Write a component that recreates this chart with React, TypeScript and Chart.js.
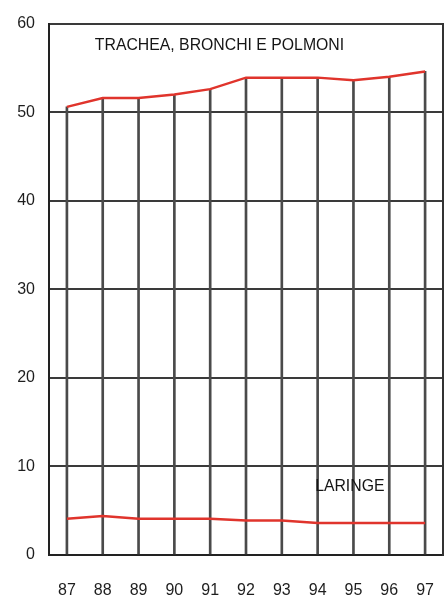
import React, { useEffect, useRef } from "react";
import { Chart, registerables } from "chart.js";

Chart.register(...registerables);

const YEARS = [87, 88, 89, 90, 91, 92, 93, 94, 95, 96, 97];
const TRACHEA = [50.6, 51.6, 51.6, 52.0, 52.6, 53.9, 53.9, 53.9, 53.6, 54.0, 54.6];
const LARINGE = [4.1, 4.4, 4.1, 4.1, 4.1, 3.9, 3.9, 3.6, 3.6, 3.6, 3.6];
const Y_TICKS = [0, 10, 20, 30, 40, 50, 60];
const SERIES_NAMES = ["TRACHEA, BRONCHI E POLMONI", "LARINGE"];
const NAME_ANCHORS = [
  { x: 87.78, y: 57.5 },
  { x: 93.93, y: 7.7 },
];

const FONT = "'Liberation Sans', Arial, sans-serif";

const labelPlugin = {
  id: "seriesLabels",
  afterDatasetsDraw(chart: any) {
    const { ctx, scales } = chart;
    ctx.save();
    ctx.font = `15.8px ${FONT}`;
    ctx.fillStyle = "#151515";
    ctx.textAlign = "left";
    ctx.textBaseline = "middle";
    SERIES_NAMES.forEach((name, i) => {
      const a = NAME_ANCHORS[i];
      ctx.fillText(name, scales.x.getPixelForValue(a.x), scales.y.getPixelForValue(a.y));
    });
    ctx.restore();
  },
};

export default function App() {
  const ref = useRef<HTMLCanvasElement | null>(null);
  useEffect(() => {
    if (!ref.current) return;
    const toPts = (arr: number[]) => YEARS.map((x, i) => ({ x, y: arr[i] }));
    const chart = new Chart(ref.current, {
      type: "line",
      data: {
        datasets: [
          {
            type: "line",
            data: toPts(TRACHEA),
            borderColor: "#e0342c",
            borderWidth: 2.5,
            pointRadius: 0,
            tension: 0,
            order: 0,
          } as any,
          {
            type: "line",
            data: toPts(LARINGE),
            borderColor: "#e0342c",
            borderWidth: 2.5,
            pointRadius: 0,
            tension: 0,
            order: 0,
          } as any,
          {
            type: "bar",
            data: toPts(TRACHEA),
            backgroundColor: "#4a4a4a",
            barThickness: 2,
            order: 2,
          } as any,
        ],
      },
      options: {
        responsive: false,
        devicePixelRatio: 1,
        animation: false,
        layout: { padding: { top: 23, left: 0, right: 0, bottom: 0 } },
        plugins: { legend: { display: false }, tooltip: { enabled: false } },
        scales: {
          x: {
            type: "linear",
            offset: false,
            min: 86.5,
            max: 97.5,
            afterBuildTicks: (s: any) => {
              s.ticks = YEARS.map((v) => ({ value: v }));
            },
            afterFit: (s: any) => {
              s.height = 47;
              s.paddingLeft = 0;
              s.paddingRight = 0;
            },
            ticks: {
              padding: 26,
              color: "#1e1e1e",
              font: { family: FONT, size: 16 },
              callback: (v: any) => String(v),
            },
            grid: { display: false, drawTicks: false, offset: false },
            border: { display: true, color: "#222", width: 2 },
          },
          y: {
            type: "linear",
            min: 0,
            max: 60,
            afterBuildTicks: (s: any) => {
              s.ticks = Y_TICKS.map((v) => ({ value: v }));
            },
            afterFit: (s: any) => {
              s.width = 49;
            },
            ticks: {
              padding: 14,
              color: "#1e1e1e",
              font: { family: FONT, size: 16 },
            },
            grid: { color: "#3a3a3a", lineWidth: 2, drawTicks: false },
            border: { display: true, color: "#222", width: 2 },
          },
          yr: {
            type: "linear",
            position: "right",
            min: 0,
            max: 60,
            afterFit: (s: any) => {
              s.width = 3;
            },
            ticks: { display: false },
            grid: { display: false, drawTicks: false },
            border: { display: true, color: "#333", width: 2 },
          },
        },
      },
      plugins: [labelPlugin],
    } as any);
    return () => chart.destroy();
  }, []);
  return (
    <div style={{ position: "absolute", left: 0, top: 0, width: 446, height: 602, background: "#fff" }}>
      <canvas ref={ref} width={446} height={602} />
    </div>
  );
}
